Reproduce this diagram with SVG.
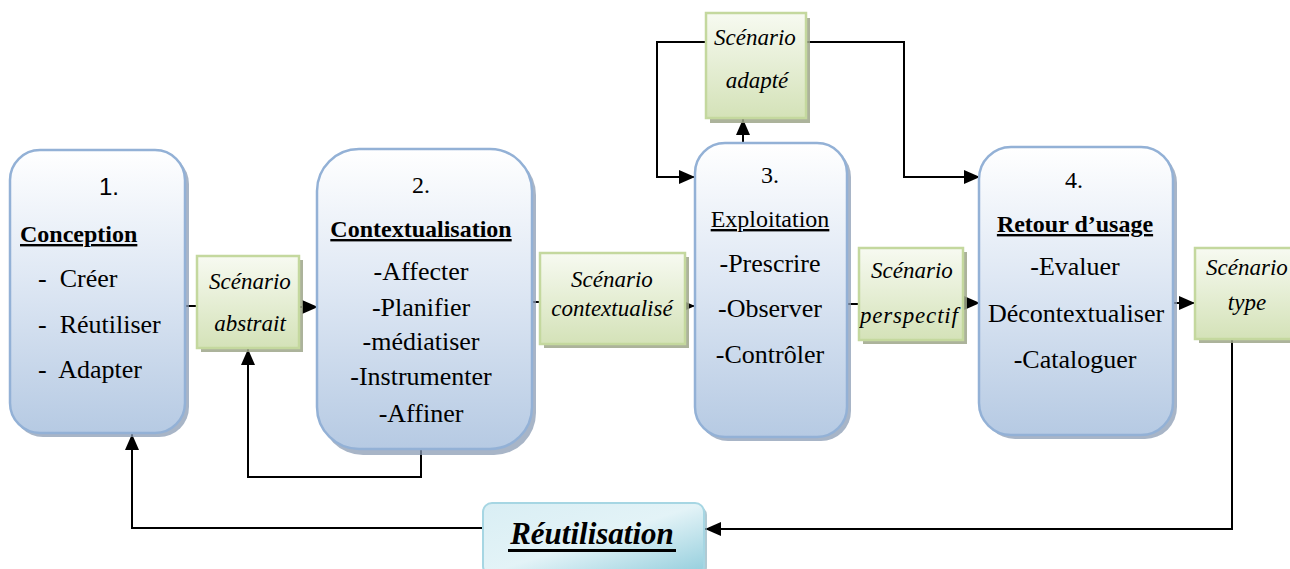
<svg xmlns="http://www.w3.org/2000/svg" width="1290" height="569" viewBox="0 0 1290 569">
  <defs>
    <linearGradient id="blueFill" x1="0" y1="0" x2="0" y2="1">
      <stop offset="0" stop-color="#ffffff"/>
      <stop offset="0.45" stop-color="#dfe8f4"/>
      <stop offset="1" stop-color="#b6cae3"/>
    </linearGradient>
    <linearGradient id="greenFill" x1="0" y1="0" x2="0" y2="1">
      <stop offset="0" stop-color="#f7faf1"/>
      <stop offset="1" stop-color="#d4e2b8"/>
    </linearGradient>
    <linearGradient id="tealFill" x1="0" y1="0" x2="1" y2="1">
      <stop offset="0" stop-color="#d9eef4"/>
      <stop offset="0.5" stop-color="#e3f3f7"/>
      <stop offset="1" stop-color="#92cddc"/>
    </linearGradient>
    <marker id="arrow" viewBox="0 0 16 14" refX="16" refY="7" markerWidth="16" markerHeight="14" markerUnits="userSpaceOnUse" orient="auto">
      <path d="M0,0 L16,7 L0,14 Z" fill="#000"/>
    </marker>
    <clipPath id="clipNode4"><rect x="980" y="147" width="186" height="288"/></clipPath>
    <clipPath id="clipPersp"><rect x="859" y="248" width="102" height="92"/></clipPath>
  </defs>
  <style>
    .stage { fill: url(#blueFill); stroke: #93b1d6; stroke-width: 2.5; }
    .stageShadow { fill: #8b9cb4; opacity: 0.75; }
    .artifact { fill: url(#greenFill); stroke: #c4d89e; stroke-width: 2.5; }
    .artifactShadow { fill: #9ea68a; opacity: 0.85; }
    text { font-family: "Liberation Serif", "Times New Roman", Times, "DejaVu Serif", serif; fill: #000; }
    .num { font-size: 24px; }
    .sansnum { font-family: "Liberation Sans", Arial, "DejaVu Sans", sans-serif; font-size: 24px; }
    .head { font-size: 24px; text-decoration: underline; }
    .bold { font-weight: bold; }
    .item { font-size: 26px; }
    .ital { font-size: 23px; font-style: italic; }
    .wire { fill: none; stroke: #000; stroke-width: 2; }
  </style>

  <!-- connectors -->
  <g id="connectors">
    <line class="wire" x1="185" y1="306" x2="197" y2="306"/>
    <line class="wire" x1="299" y1="307" x2="318" y2="307" marker-end="url(#arrow)"/>
    <polyline class="wire" points="421,449 421,477 248,477 248,349" marker-end="url(#arrow)"/>
    <line class="wire" x1="532" y1="302" x2="540" y2="302"/>
    <line class="wire" x1="685" y1="306" x2="695" y2="306" marker-end="url(#arrow)"/>
    <line class="wire" x1="743" y1="143" x2="743" y2="119" marker-end="url(#arrow)"/>
    <polyline class="wire" points="712,42 657,42 657,177 695,177" marker-end="url(#arrow)"/>
    <polyline class="wire" points="806,42 904,42 904,177 980,177" marker-end="url(#arrow)"/>
    <line class="wire" x1="847" y1="304" x2="859" y2="304"/>
    <line class="wire" x1="962" y1="303" x2="980" y2="303" marker-end="url(#arrow)"/>
    <line class="wire" x1="1173" y1="303" x2="1195" y2="303" marker-end="url(#arrow)"/>
    <polyline class="wire" points="1232,340 1232,529 705,529" marker-end="url(#arrow)"/>
    <polyline class="wire" points="483,528 132,528 132,434" marker-end="url(#arrow)"/>
  </g>

  <!-- stage 1 -->
  <g id="stage1">
    <rect class="stageShadow" x="13" y="154" width="176" height="283" rx="30"/>
    <rect class="stage" x="10" y="150" width="175" height="283" rx="30"/>
    <text class="sansnum" x="109" y="195" text-anchor="middle">1.</text>
    <text class="head bold" x="20" y="242">Conception</text>
    <text class="item" x="38" y="287" xml:space="preserve">-  Créer</text>
    <text class="item" x="38" y="333" xml:space="preserve">-  Réutiliser</text>
    <text class="item" x="38" y="378" xml:space="preserve">-  Adapter</text>
  </g>

  <!-- abstract scenario -->
  <g id="scenarioAbstrait">
    <rect class="artifactShadow" x="201" y="260" width="102" height="92"/>
    <rect class="artifact" x="197" y="256" width="102" height="92"/>
    <text class="ital" x="250" y="289" text-anchor="middle">Scénario</text>
    <text class="ital" x="250" y="331" text-anchor="middle">abstrait</text>
  </g>

  <!-- stage 2 -->
  <g id="stage2">
    <rect class="stageShadow" x="321" y="153" width="215" height="302" rx="42"/>
    <rect class="stage" x="317" y="149" width="215" height="300" rx="42"/>
    <text class="num" x="421" y="193" text-anchor="middle">2.</text>
    <text class="head bold" x="421" y="237" text-anchor="middle">Contextualisation</text>
    <text class="item" x="421" y="280" text-anchor="middle">-Affecter</text>
    <text class="item" x="421" y="316" text-anchor="middle">-Planifier</text>
    <text class="item" x="421" y="350" text-anchor="middle">-médiatiser</text>
    <text class="item" x="421" y="385" text-anchor="middle">-Instrumenter</text>
    <text class="item" x="421" y="422" text-anchor="middle">-Affiner</text>
  </g>

  <!-- contextualised scenario -->
  <g id="scenarioContextualise">
    <rect class="artifactShadow" x="544" y="257" width="145" height="91"/>
    <rect class="artifact" x="540" y="253" width="145" height="91"/>
    <text class="ital" x="612" y="287" text-anchor="middle">Scénario</text>
    <text class="ital" x="612" y="316" text-anchor="middle">contextualisé</text>
  </g>

  <!-- adapted scenario -->
  <g id="scenarioAdapte">
    <rect class="artifactShadow" x="710" y="18" width="100" height="105"/>
    <rect class="artifact" x="706" y="13" width="100" height="105"/>
    <text class="ital" x="755" y="45" text-anchor="middle">Scénario</text>
    <text class="ital" x="757" y="88" text-anchor="middle">adapté</text>
  </g>

  <!-- stage 3 -->
  <g id="stage3">
    <rect class="stageShadow" x="698" y="147" width="153" height="294" rx="30"/>
    <rect class="stage" x="695" y="143" width="152" height="294" rx="30"/>
    <text class="num" x="770" y="183" text-anchor="middle">3.</text>
    <text class="head" x="770" y="227" text-anchor="middle">Exploitation</text>
    <text class="item" x="770" y="272" text-anchor="middle">-Prescrire</text>
    <text class="item" x="770" y="317" text-anchor="middle">-Observer</text>
    <text class="item" x="770" y="363" text-anchor="middle">-Contrôler</text>
  </g>

  <!-- perspective scenario -->
  <g id="scenarioPerspectif">
    <rect class="artifactShadow" x="863" y="252" width="104" height="92"/>
    <rect class="artifact" x="859" y="248" width="104" height="92"/>
    <text class="ital" x="912" y="278" text-anchor="middle">Scénario</text>
    <g clip-path="url(#clipPersp)">
      <text class="ital" x="860" y="323" letter-spacing="0.8">perspectif</text>
    </g>
  </g>

  <!-- stage 4 -->
  <g id="stage4">
    <rect class="stageShadow" x="983" y="151" width="194" height="288" rx="32"/>
    <rect class="stage" x="979" y="147" width="194" height="288" rx="32"/>
    <text class="num" x="1074" y="188" text-anchor="middle">4.</text>
    <text class="head bold" x="1075" y="232" text-anchor="middle">Retour d’usage</text>
    <text class="item" x="1075" y="275" text-anchor="middle">-Evaluer</text>
    <g clip-path="url(#clipNode4)">
      <text class="item" x="988" y="322">Décontextualiser</text>
    </g>
    <text class="item" x="1075" y="368" text-anchor="middle">-Cataloguer</text>
  </g>

  <!-- model scenario -->
  <g id="scenarioType">
    <rect class="artifactShadow" x="1199" y="252" width="100" height="91"/>
    <rect class="artifact" x="1195" y="248" width="100" height="91"/>
    <text class="ital" x="1247" y="275" text-anchor="middle">Scénario</text>
    <text class="ital" x="1247" y="310" text-anchor="middle">type</text>
  </g>

  <!-- reuse -->
  <g id="reutilisation">
    <rect x="486" y="506" width="221" height="70" rx="9" fill="#8fb4c0" opacity="0.7"/>
    <rect x="483" y="503" width="221" height="72" rx="9" fill="url(#tealFill)" stroke="#a6d6e3" stroke-width="2"/>
    <text x="592" y="544" font-size="31" font-weight="bold" font-style="italic" text-anchor="middle">Réutilisation</text>
    <rect x="508" y="549" width="168" height="3" fill="#000"/>
  </g>
</svg>
